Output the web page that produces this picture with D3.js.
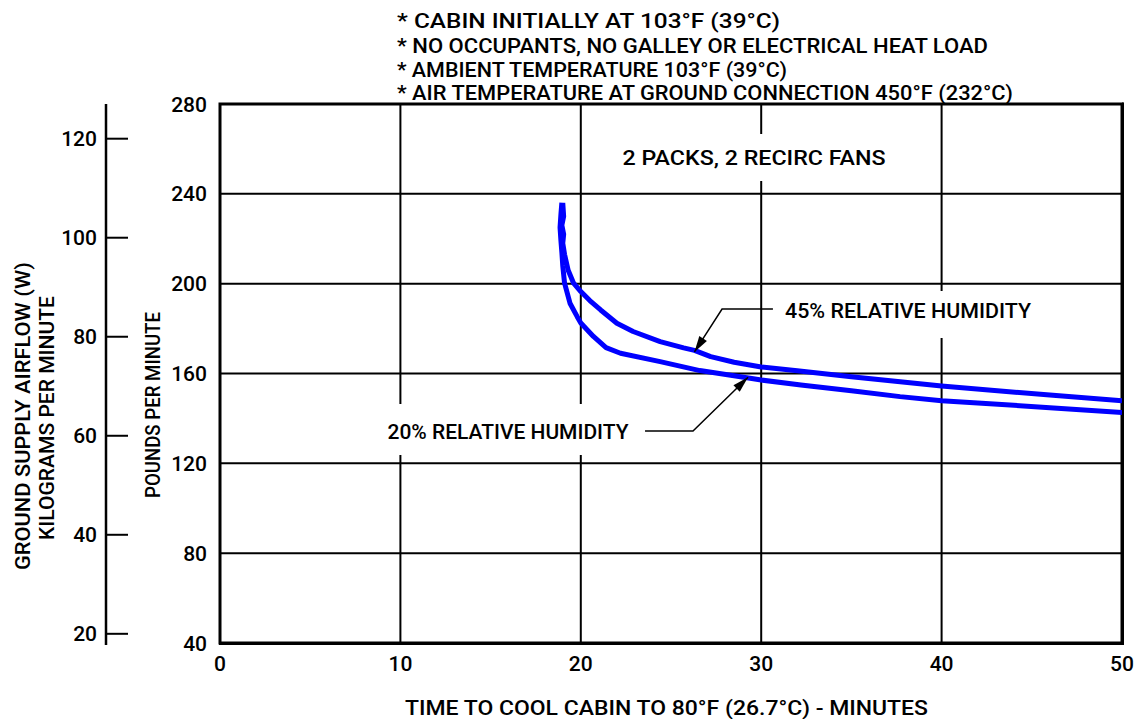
<!DOCTYPE html>
<html>
<head>
<meta charset="utf-8">
<script src="https://cdn.jsdelivr.net/npm/d3@7"></script>
<style>
  html, body { margin: 0; padding: 0; background: #fff; }
  svg text { font-family: Roboto, "Liberation Sans", "DejaVu Sans", sans-serif; font-weight: 500; fill: #000; }
</style>
</head>
<body>
<svg id="chart" width="1142" height="719"></svg>
<script>
// ---------- data ----------
const xTicks = [0, 10, 20, 30, 40, 50];
const yTicksLb = [40, 80, 120, 160, 200, 240, 280];
const yTicksKg = [20, 40, 60, 80, 100, 120];
const LB_TO_KG = 0.4536;

// 45% relative humidity: [minutes, lb/min]
const rh45 = [
  [19.0, 236], [19.05, 230], [18.95, 226], [19.05, 222], [19.0, 218], [19.1, 213],
  [19.3, 206], [19.6, 200.2], [20.0, 196.5], [20.5, 192.5], [21.1, 188.3], [22.0, 182.4],
  [22.9, 178.7], [24.4, 174.2], [25.7, 171.4], [26.3, 170.3], [27.2, 167.5], [28.5, 165.0],
  [30, 162.9], [32, 161.2], [35, 158.6], [40, 154.4], [46, 150.4], [50, 147.9]
];
// 20% relative humidity
const rh20 = [
  [18.95, 236], [18.9, 231], [18.85, 225], [18.9, 219], [18.95, 214], [19.0, 208],
  [19.1, 200.2], [19.4, 191.3], [19.8, 185.3], [20.0, 182.5], [20.7, 176.5], [21.4, 171.5],
  [22.2, 169.0], [24.4, 165.3], [26.6, 161.3], [29.3, 158.0], [30, 157.1], [32.2, 154.9],
  [35, 152.3], [37.7, 149.7], [40, 147.9], [46, 144.8], [50, 142.6]
];

const notes = [
  "* CABIN INITIALLY AT 103°F (39°C)",
  "* NO OCCUPANTS, NO GALLEY OR ELECTRICAL HEAT LOAD",
  "* AMBIENT TEMPERATURE 103°F (39°C)",
  "* AIR TEMPERATURE AT GROUND CONNECTION 450°F (232°C)"
];
const noteWidths = [383, 591, 390, 616];

// ---------- layout ----------
const svg = d3.select("#chart");
const L = 220, R = 1122, T = 104, B = 643;
const FS = 21;
const x = d3.scaleLinear().domain([0, 50]).range([L, R]);
const y = d3.scaleLinear().domain([40, 280]).range([B, T]);
const yKg = d3.scaleLinear().domain([40 * LB_TO_KG, 280 * LB_TO_KG]).range([B, T]);

// gridlines
const grid = svg.append("g").attr("stroke", "#000").attr("stroke-width", 2);
grid.selectAll("line.v").data(xTicks.slice(1, -1)).join("line")
  .attr("x1", d => x(d)).attr("x2", d => x(d)).attr("y1", T).attr("y2", B);
grid.selectAll("line.h").data(yTicksLb.slice(1, -1)).join("line")
  .attr("x1", L).attr("x2", R).attr("y1", d => y(d)).attr("y2", d => y(d));

// label background boxes that interrupt gridlines
function boxedLabel(text, cx, baseline, width, padX, padTop, padBot) {
  svg.append("rect")
    .attr("x", cx - width / 2 - padX).attr("y", baseline - 15 - padTop)
    .attr("width", width + 2 * padX).attr("height", 15 + padTop + padBot)
    .attr("fill", "#fff");
  svg.append("text").attr("x", cx).attr("y", baseline)
    .attr("text-anchor", "middle").attr("font-size", FS)
    .attr("textLength", width).attr("lengthAdjust", "spacingAndGlyphs")
    .text(text);
}
boxedLabel("2 PACKS, 2 RECIRC FANS", 754, 165, 263, 10, 16, 16);
boxedLabel("45% RELATIVE HUMIDITY", 908, 318, 246, 12, 12, 20);
boxedLabel("20% RELATIVE HUMIDITY", 508, 439, 241, 12, 20, 16);

// frame
svg.append("rect").attr("x", L).attr("y", T).attr("width", R - L).attr("height", B - T)
  .attr("fill", "none").attr("stroke", "#000").attr("stroke-width", 3);
svg.append("line").attr("x1", R + 1).attr("x2", R + 1).attr("y1", T - 1.5).attr("y2", B + 1.5)
  .attr("stroke", "#000").attr("stroke-width", 2);
svg.append("line").attr("x1", L - 1).attr("x2", R + 2).attr("y1", B + 1).attr("y2", B + 1)
  .attr("stroke", "#000").attr("stroke-width", 2);

// curves
svg.append("clipPath").attr("id", "clip").append("rect")
  .attr("x", L).attr("y", T).attr("width", R - L).attr("height", B - T);
const line = d3.line().x(d => x(d[0])).y(d => y(d[1])).curve(d3.curveLinear);
svg.append("g").attr("clip-path", "url(#clip)").selectAll("path").data([rh45, rh20]).join("path")
  .attr("d", line).attr("fill", "none").attr("stroke", "#0000ff")
  .attr("stroke-width", 5).attr("stroke-linejoin", "round").attr("stroke-linecap", "butt");

// leader lines with arrows (in data units)
const leader45 = [[30.65, 188.7], [27.83, 188.7], [26.3, 169.6]];
const leader20 = [[23.56, 134.4], [26.22, 134.4], [29.27, 158.3]];
function leader(pts) {
  const p = pts.map(d => [x(d[0]), y(d[1])]);
  svg.append("path").attr("d", d3.line()(p)).attr("fill", "none")
    .attr("stroke", "#000").attr("stroke-width", 1.5);
  const a = p[p.length - 2], b = p[p.length - 1];
  const ang = Math.atan2(b[1] - a[1], b[0] - a[0]);
  const len = 16, w = 4.5;
  const bx = b[0] - len * Math.cos(ang), by = b[1] - len * Math.sin(ang);
  const nx = -Math.sin(ang) * w, ny = Math.cos(ang) * w;
  svg.append("path").attr("d", `M${b[0]},${b[1]}L${bx + nx},${by + ny}L${bx - nx},${by - ny}Z`)
    .attr("fill", "#000");
}
leader(leader45);
leader(leader20);

// tick labels (lb)
svg.append("g").selectAll("text").data(yTicksLb).join("text")
  .attr("x", 207).attr("y", d => y(d)).attr("dy", "0.36em")
  .attr("text-anchor", "end").attr("font-size", FS).text(d => d);
svg.append("g").selectAll("text").data(xTicks).join("text")
  .attr("x", d => x(d)).attr("y", 671)
  .attr("text-anchor", "middle").attr("font-size", FS).text(d => d);

// left kg axis
const kgAxis = svg.append("g");
kgAxis.append("line").attr("x1", 106).attr("x2", 106).attr("y1", T).attr("y2", B + 2)
  .attr("stroke", "#000").attr("stroke-width", 2.5);
kgAxis.selectAll("line.t").data(yTicksKg).join("line")
  .attr("x1", 106).attr("x2", 128).attr("y1", d => yKg(d)).attr("y2", d => yKg(d))
  .attr("stroke", "#000").attr("stroke-width", 2);
kgAxis.selectAll("text").data(yTicksKg).join("text")
  .attr("x", 97).attr("y", d => yKg(d)).attr("dy", "0.36em")
  .attr("text-anchor", "end").attr("font-size", FS).text(d => d);

// axis titles
function vText(t, cx, cy, w) {
  svg.append("text").attr("transform", `translate(${cx},${cy}) rotate(-90)`)
    .attr("text-anchor", "middle").attr("dy", "0.36em").attr("font-size", FS)
    .attr("textLength", w).attr("lengthAdjust", "spacingAndGlyphs").text(t);
}
vText("GROUND SUPPLY AIRFLOW (W)", 22, 416, 308);
vText("KILOGRAMS PER MINUTE", 46, 418, 244);
vText("POUNDS PER MINUTE", 152, 405, 186);

svg.append("text").attr("x", 405).attr("y", 715).attr("font-size", FS)
  .attr("textLength", 523).attr("lengthAdjust", "spacingAndGlyphs")
  .text("TIME TO COOL CABIN TO 80°F (26.7°C) - MINUTES");

// notes
svg.append("g").selectAll("text").data(notes).join("text")
  .attr("x", 397).attr("y", (d, i) => [28, 52.5, 76.5, 99.5][i]).attr("font-size", FS)
  .attr("textLength", (d, i) => noteWidths[i]).attr("lengthAdjust", "spacingAndGlyphs")
  .text(d => d);
</script>
</body>
</html>
